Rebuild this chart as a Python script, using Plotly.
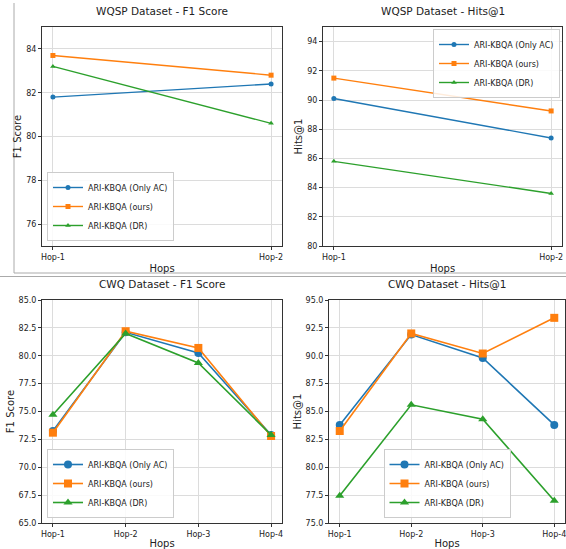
import plotly.graph_objects as go

W, H = 566, 549


def px(x):
    return x / W


def py(y):
    return 1 - y / H


series_names = ["ARI-KBQA (Only AC)", "ARI-KBQA (ours)", "ARI-KBQA (DR)"]
colors = ["#1f77b4", "#ff7f0e", "#2ca02c"]
symbols = ["circle", "square", "triangle-up"]

hops_wqsp = ["Hop-1", "Hop-2"]
hops_cwq = ["Hop-1", "Hop-2", "Hop-3", "Hop-4"]

wqsp_f1_only_ac = [81.8, 82.4]
wqsp_f1_ours = [83.7, 82.8]
wqsp_f1_dr = [83.2, 80.6]

wqsp_hits_only_ac = [90.1, 87.4]
wqsp_hits_ours = [91.5, 89.25]
wqsp_hits_dr = [85.8, 83.6]

cwq_f1_only_ac = [73.25, 82.1, 80.25, 72.9]
cwq_f1_ours = [73.1, 82.2, 80.7, 72.8]
cwq_f1_dr = [74.7, 82.0, 79.35, 72.9]

cwq_hits_only_ac = [83.8, 91.9, 89.8, 83.8]
cwq_hits_ours = [83.25, 92.0, 90.2, 93.4]
cwq_hits_dr = [77.45, 85.6, 84.3, 77.0]

titles = ["WQSP Dataset - F1 Score", "WQSP Dataset - Hits@1",
          "CWQ Dataset - F1 Score", "CWQ Dataset - Hits@1"]
ylabels = ["F1 Score", "Hits@1", "F1 Score", "Hits@1"]

panels = [
    dict(x=hops_wqsp, ys=[wqsp_f1_only_ac, wqsp_f1_ours, wqsp_f1_dr], box=(42, 282, 27, 246),
         yr=[75, 85], t0=76, dt=2, fmt="d", ms=5, lw=1.4,
         legend=dict(x=47, y=241, xanchor="left", yanchor="bottom")),
    dict(x=hops_wqsp, ys=[wqsp_hits_only_ac, wqsp_hits_ours, wqsp_hits_dr], box=(323, 562, 27, 246),
         yr=[80, 95], t0=80, dt=2, fmt="d", ms=5, lw=1.4,
         legend=dict(x=560, y=29, xanchor="right", yanchor="top")),
    dict(x=hops_cwq, ys=[cwq_f1_only_ac, cwq_f1_ours, cwq_f1_dr], box=(42, 282, 300, 523),
         yr=[65, 85], t0=65, dt=2.5, fmt=".1f", ms=8, lw=1.6,
         legend=dict(x=47, y=518, xanchor="left", yanchor="bottom")),
    dict(x=hops_cwq, ys=[cwq_hits_only_ac, cwq_hits_ours, cwq_hits_dr], box=(329, 565, 300, 523),
         yr=[75, 95], t0=75, dt=2.5, fmt=".1f", ms=8, lw=1.6,
         legend=dict(x=447, y=518, xanchor="center", yanchor="bottom")),
]

fig = go.Figure()
FONT = "DejaVu Sans"
TXT = "#222222"
annotations = []
for i, p in enumerate(panels):
    k = i + 1
    xa = "x" if k == 1 else f"x{k}"
    ya = "y" if k == 1 else f"y{k}"
    lg = "legend" if k == 1 else f"legend{k}"
    for j in range(3):
        fig.add_trace(go.Scatter(
            x=p["x"], y=p["ys"][j], mode="lines+markers", name=series_names[j],
            line=dict(color=colors[j], width=p["lw"]),
            marker=dict(symbol=symbols[j], size=p["ms"], color=colors[j]),
            xaxis=xa, yaxis=ya, legend=lg,
        ))
    x0, x1, y0, y1 = p["box"]
    n = len(p["x"])
    pad = 0.05 * (n - 1)
    common = dict(showline=True, linecolor="#333", linewidth=1, mirror=True,
                  showgrid=True, gridcolor="#dcdcdc", gridwidth=1,
                  ticks="outside", ticklen=3, tickcolor="#333", automargin=False,
                  tickfont=dict(family=FONT, size=8, color=TXT), zeroline=False)
    fig.layout[f"xaxis{'' if k == 1 else k}"] = dict(
        domain=[px(x0), px(x1)], anchor=ya, type="category",
        range=[-pad, n - 1 + pad],
        title=dict(text="Hops", font=dict(family=FONT, size=10, color=TXT), standoff=4),
        **common)
    fig.layout[f"yaxis{'' if k == 1 else k}"] = dict(
        domain=[py(y1), py(y0)], anchor=xa, range=p["yr"], dtick=p["dt"],
        tick0=p["t0"], tickformat=p["fmt"],
        title=dict(text=ylabels[i], font=dict(family=FONT, size=10, color=TXT), standoff=2),
        **common)
    L = p["legend"]
    fig.layout[lg] = dict(x=px(L["x"]), y=py(L["y"]), xanchor=L["xanchor"], yanchor=L["yanchor"],
                          bgcolor="rgba(255,255,255,0.85)", bordercolor="#cccccc", borderwidth=1,
                          font=dict(family=FONT, size=8, color=TXT),
                          itemwidth=30, tracegroupgap=0)
    annotations.append(dict(text=titles[i], x=px((x0 + x1) / 2), y=py(y0 - 16),
                            xref="paper", yref="paper", showarrow=False,
                            xanchor="center", yanchor="middle",
                            font=dict(family=FONT, size=10.5, color=TXT)))

shapes = [
    dict(type="line", xref="paper", yref="paper", x0=px(14), x1=px(14), y0=py(3), y1=py(273),
         line=dict(color="#aaaaaa", width=1)),
    dict(type="line", xref="paper", yref="paper", x0=px(14), x1=1, y0=py(273), y1=py(273),
         line=dict(color="#aaaaaa", width=1)),
    dict(type="line", xref="paper", yref="paper", x0=0, x1=1, y0=py(276.5), y1=py(276.5),
         line=dict(color="#aaaaaa", width=1)),
]

fig.update_layout(width=W, height=H, margin=dict(l=0, r=0, t=0, b=0, autoexpand=False),
                  paper_bgcolor="white", plot_bgcolor="white",
                  annotations=annotations, shapes=shapes, showlegend=True,
                  font=dict(family=FONT))
fig.write_html("out.html", config={"displayModeBar": False},
               post_script="document.body.style.margin='0';document.body.style.overflow='hidden';")
